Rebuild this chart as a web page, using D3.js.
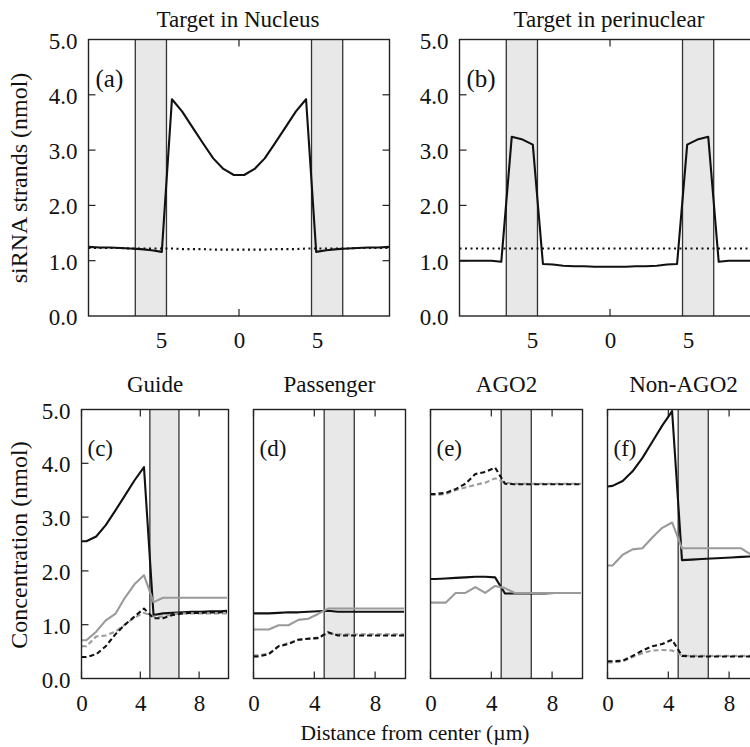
<!DOCTYPE html>
<html><head><meta charset="utf-8">
<script src="https://cdn.jsdelivr.net/npm/d3@7"></script>
<style>
body{margin:0;background:#fff}
text{font-family:"Liberation Serif","Times New Roman",serif;fill:#111}
</style>
</head><body>
<svg id="chart" width="750" height="747"></svg>
<script>
// ---------- DATA ----------
const topX = [-9.65,-8.95,-8.3,-7.6,-6.97,-6.3,-5.6,-4.95,-4.3,-3.65,-3.0,-2.3,-1.65,-1.0,-0.33,
              0.33,1.0,1.65,2.3,3.0,3.65,4.3,4.95,5.6,6.3,6.97,7.6,8.3,8.95,9.65];
const nucleusSolid = [1.25,1.24,1.24,1.23,1.22,1.21,1.19,1.16,3.92,3.70,3.42,3.12,2.85,2.66,2.55,
                      2.55,2.66,2.85,3.12,3.42,3.70,3.92,1.16,1.19,1.21,1.22,1.23,1.24,1.24,1.25];
const nucleusDotted = [1.23,1.23,1.23,1.23,1.22,1.22,1.22,1.22,1.22,1.21,1.21,1.21,1.20,1.20,1.20,
                       1.20,1.20,1.20,1.21,1.21,1.21,1.22,1.22,1.22,1.22,1.22,1.23,1.23,1.23,1.23];
const periSolid = [1.00,1.00,1.00,1.00,0.98,3.24,3.19,3.10,0.94,0.93,0.91,0.90,0.90,0.89,0.89,
                   0.89,0.89,0.90,0.90,0.91,0.93,0.94,3.10,3.19,3.24,0.98,1.00,1.00,1.00,1.00];
const periDotted = [1.22,1.22,1.22,1.22,1.22,1.22,1.22,1.22,1.22,1.22,1.22,1.22,1.22,1.22,1.22,
                    1.22,1.22,1.22,1.22,1.22,1.22,1.22,1.22,1.22,1.22,1.22,1.22,1.22,1.22,1.22];

const botX = [0,0.33,1.0,1.65,2.3,2.95,3.6,4.25,4.9,5.55,6.2,6.85,7.5,8.15,8.8,9.45,9.9];
// Guide
const guideBlackSolid = [2.55,2.55,2.64,2.85,3.12,3.40,3.68,3.93,1.18,1.21,1.22,1.23,1.24,1.24,1.25,1.25,1.26];
const guideGraySolid  = [0.71,0.71,0.87,1.08,1.20,1.50,1.75,1.92,1.42,1.50,1.50,1.50,1.50,1.50,1.50,1.50,1.50];
const guideBlackDash  = [0.40,0.40,0.45,0.60,0.82,1.00,1.15,1.30,1.12,1.12,1.18,1.21,1.22,1.22,1.23,1.23,1.24];
const guideGrayDash   = [0.60,0.60,0.78,0.80,0.87,1.00,1.13,1.22,1.15,1.15,1.20,1.21,1.21,1.21,1.21,1.21,1.21];
// Passenger
const passBlackSolid = [1.21,1.21,1.21,1.22,1.23,1.23,1.24,1.25,1.26,1.24,1.24,1.24,1.24,1.24,1.24,1.24,1.24];
const passGraySolid  = [0.91,0.91,0.91,0.99,0.99,1.09,1.11,1.20,1.30,1.30,1.30,1.30,1.30,1.30,1.30,1.30,1.30];
const passBlackDash  = [0.41,0.41,0.45,0.60,0.64,0.72,0.74,0.75,0.86,0.80,0.80,0.80,0.80,0.80,0.80,0.80,0.80];
const passGrayDash   = [0.43,0.43,0.46,0.60,0.66,0.72,0.74,0.76,0.84,0.82,0.82,0.82,0.82,0.82,0.82,0.82,0.82];
// AGO2
const agoBlackDash  = [3.43,3.43,3.45,3.52,3.62,3.80,3.84,3.92,3.62,3.61,3.61,3.61,3.61,3.61,3.61,3.61,3.61];
const agoGrayDash   = [3.41,3.41,3.43,3.50,3.55,3.60,3.64,3.72,3.64,3.62,3.62,3.62,3.62,3.62,3.62,3.62,3.62];
const agoBlackSolid = [1.85,1.85,1.86,1.87,1.88,1.89,1.89,1.88,1.58,1.58,1.58,1.58,1.58,1.59,1.59,1.59,1.59];
const agoGraySolid  = [1.41,1.41,1.41,1.59,1.59,1.70,1.59,1.72,1.68,1.59,1.59,1.59,1.59,1.59,1.59,1.59,1.59];
// Non-AGO2
const nonBlackSolid = [3.57,3.58,3.67,3.85,4.10,4.40,4.70,4.97,2.20,2.21,2.22,2.23,2.24,2.25,2.26,2.27,2.27];
const nonGraySolid  = [2.10,2.10,2.30,2.40,2.42,2.62,2.80,2.90,2.42,2.42,2.42,2.42,2.42,2.42,2.42,2.30,2.30];
const nonBlackDash  = [0.32,0.32,0.33,0.42,0.52,0.60,0.64,0.72,0.42,0.41,0.41,0.41,0.41,0.41,0.41,0.41,0.41];
const nonGrayDash   = [0.30,0.30,0.32,0.40,0.47,0.52,0.53,0.52,0.43,0.42,0.42,0.42,0.42,0.42,0.42,0.42,0.42];

const yTicks = [0,1,2,3,4,5];
const topXTicks = [-5,0,5];
const botXTicks = [0,4,8];
const bandTop = [4.65,6.65];
const bandBot = [4.65,6.63];

// ---------- DRAW ----------
const svg = d3.select("#chart");
const FT = 23;      // ticks
const FTITLE = 23;  // panel titles
const FLAB = 24;    // y axis labels
const BLACK = "#111", GRAY = "#9a9a9a";

function frame(g, x0, x1, y0, y1){
  g.append("rect").attr("x",x0).attr("y",y0).attr("width",x1-x0).attr("height",y1-y0)
   .attr("fill","none").attr("stroke","#222").attr("stroke-width",1.4);
}
function bands(g, xs, ys, ranges){
  ranges.forEach(([a,b])=>{
    const xa = xs(a), xb = xs(b);
    g.append("rect").attr("x",Math.min(xa,xb)).attr("y",ys(5)).attr("width",Math.abs(xb-xa))
      .attr("height",ys(0)-ys(5)).attr("fill","#e8e8e8");
    [xa,xb].forEach(xx=>g.append("line").attr("x1",xx).attr("x2",xx).attr("y1",ys(5)).attr("y2",ys(0))
      .attr("stroke","#333").attr("stroke-width",1.3));
  });
}
function xticks(g, xs, ys, ticks, fmt){
  const ax = d3.axisBottom(xs).tickValues(ticks).tickFormat(fmt).tickSize(0).tickPadding(0);
  const a = g.append("g").attr("transform",`translate(0,${ys(0)+32})`).call(ax);
  a.select(".domain").remove();
  a.selectAll("text").attr("font-size",FT).attr("font-family","Liberation Serif").attr("fill","#111").attr("dy",0);
  ticks.forEach(t=>{
    const xx = xs(t);
    g.append("line").attr("x1",xx).attr("x2",xx).attr("y1",ys(0)).attr("y2",ys(0)-7).attr("stroke","#222").attr("stroke-width",1.2);
    g.append("line").attr("x1",xx).attr("x2",xx).attr("y1",ys(5)).attr("y2",ys(5)+7).attr("stroke","#222").attr("stroke-width",1.2);
  });
}
function yticks(g, xs, ys, left, right, labels, tickLeft, tickRight){
  yTicks.forEach(t=>{
    if (t>0 && t<5){
      if (tickLeft) g.append("line").attr("x1",left).attr("x2",left+7).attr("y1",ys(t)).attr("y2",ys(t)).attr("stroke","#222").attr("stroke-width",1.2);
      if (tickRight) g.append("line").attr("x1",right).attr("x2",right-7).attr("y1",ys(t)).attr("y2",ys(t)).attr("stroke","#222").attr("stroke-width",1.2);
    }
    if (labels) g.append("text").attr("x",left-11).attr("y",ys(t)+9).attr("text-anchor","end").attr("font-size",FT).text(d3.format(".1f")(t));
  });
}
function series(g, xs, ys, xv, yv, color, dash, clipId){
  const line = d3.line().x((d,i)=>xs(xv[i])).y(d=>ys(d));
  const p = g.append("path").datum(yv).attr("d",line).attr("fill","none").attr("stroke",color)
    .attr("stroke-width",2.1).attr("stroke-linejoin","round");
  if (dash) p.attr("stroke-dasharray",dash);
  if (clipId) p.attr("clip-path",`url(#${clipId})`);
}

// Top panels
const topPanels = [
  {left:88.5, title:"Target in Nucleus", lab:"(a)", solid:nucleusSolid, dotted:nucleusDotted},
  {left:459.5, title:"Target in perinuclear", lab:"(b)", solid:periSolid, dotted:periDotted}
];
topPanels.forEach((p,k)=>{
  const W = 301, top = 39.5, bottom = 316;
  const xs = d3.scaleLinear().domain([-9.65,9.65]).range([p.left,p.left+W]);
  const ys = d3.scaleLinear().domain([0,5]).range([bottom,top]);
  const g = svg.append("g");
  yticks(g, xs, ys, p.left, p.left+W, true, true, true);
  xticks(g, xs, ys, topXTicks, t=>Math.abs(t));
  bands(g, xs, ys, [[-bandTop[1],-bandTop[0]],[bandTop[0],bandTop[1]]]);
  series(g, xs, ys, topX, p.dotted, BLACK, "2,3.5");
  series(g, xs, ys, topX, p.solid, BLACK, null);
  frame(g, p.left, p.left+W, top, bottom);
  g.append("text").attr("x",p.left+W/2-1).attr("y",27).attr("text-anchor","middle").attr("font-size",FTITLE).text(p.title);
  g.append("text").attr("x",p.left+7).attr("y",ys(4.2)+3).attr("font-size",25).text(p.lab);
});
svg.append("text").attr("transform","translate(27,178) rotate(-90)").attr("text-anchor","middle")
  .attr("font-size",FLAB).text("siRNA strands (nmol)");

// Bottom panels
const botPanels = [
  {left:81.5, width:147, title:"Guide", lab:"(c)", s:[[guideBlackSolid,BLACK,null],[guideGraySolid,GRAY,null],[guideGrayDash,GRAY,"5,3"],[guideBlackDash,BLACK,"5,3"]]},
  {left:253.5, width:152, title:"Passenger", lab:"(d)", s:[[passGrayDash,GRAY,"5,3"],[passBlackDash,BLACK,"5,3"],[passBlackSolid,BLACK,null],[passGraySolid,GRAY,null]]},
  {left:430.5, width:152, title:"AGO2", lab:"(e)", s:[[agoGrayDash,GRAY,"5,3"],[agoBlackDash,BLACK,"5,3"],[agoBlackSolid,BLACK,null],[agoGraySolid,GRAY,null]]},
  {left:607.5, width:152, title:"Non-AGO2", lab:"(f)", s:[[nonBlackSolid,BLACK,null],[nonGraySolid,GRAY,null],[nonGrayDash,GRAY,"5,3"],[nonBlackDash,BLACK,"5,3"]]}
];
const defs = svg.append("defs");
botPanels.forEach((p,k)=>{
  const top = 409.5, bottom = 678.5;
  const xs = d3.scaleLinear().domain([0,10]).range([p.left,p.left+p.width]);
  const ys = d3.scaleLinear().domain([0,5]).range([bottom,top]);
  const id = "clip"+k;
  defs.append("clipPath").attr("id",id).append("rect").attr("x",p.left).attr("y",top).attr("width",p.width).attr("height",bottom-top);
  const g = svg.append("g");
  yticks(g, xs, ys, p.left, p.left+p.width, k===0, k===0, false);
  xticks(g, xs, ys, botXTicks, t=>t);
  bands(g, xs, ys, [bandBot]);
  p.s.forEach(([yv,c,d])=>series(g, xs, ys, botX, yv, c, d, id));
  frame(g, p.left, p.left+p.width, top, bottom);
  g.append("text").attr("x",p.left+p.width/2).attr("y",392).attr("text-anchor","middle").attr("font-size",FTITLE).text(p.title);
  g.append("text").attr("x",p.left+6).attr("y",ys(4.2)+3).attr("font-size",23).text(p.lab);
});
svg.append("text").attr("transform","translate(27,545) rotate(-90)").attr("text-anchor","middle")
  .attr("font-size",FLAB).text("Concentration (nmol)");
svg.append("text").attr("x",415).attr("y",740).attr("text-anchor","middle")
  .attr("font-size",21.5).text("Distance from center (µm)");
</script>
</body></html>
